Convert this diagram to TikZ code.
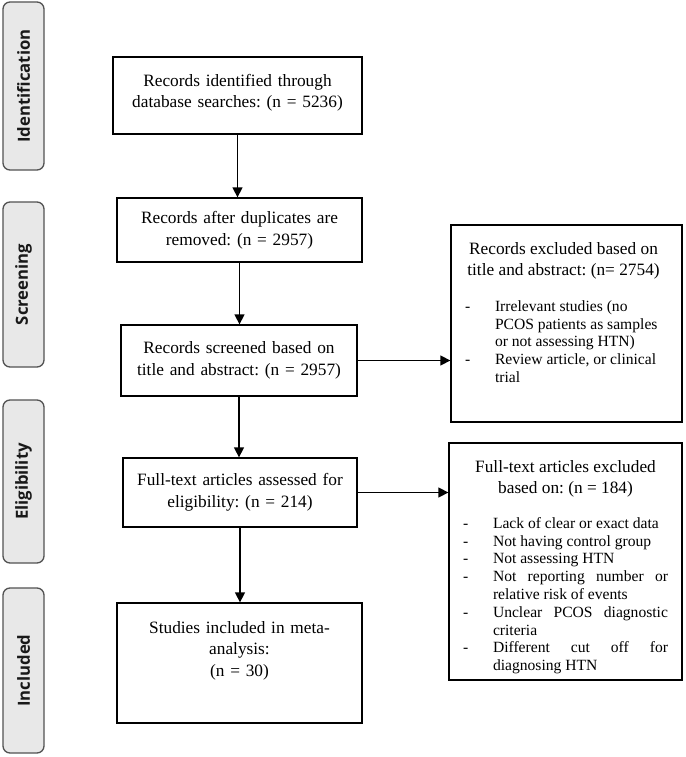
\documentclass[tikz,border=0pt]{standalone}
\usepackage{fontspec}
\setmainfont{Liberation Serif}
\newfontfamily\lblfont{Open Sans}
\usetikzlibrary{arrows.meta}
\frenchspacing
\newcommand{\mainsize}{\fontsize{17.3}{21.5}\selectfont}
\newcommand{\listsize}{\fontsize{15.6}{17.8}\selectfont}
\newcommand{\itm}[1]{\par\noindent\hangindent=30pt\hangafter=1\makebox[30pt][l]{-}#1\par}
\begin{document}
\begin{tikzpicture}[x=1pt,y=-1pt,
  box/.style={draw=black, line width=1.3pt, inner sep=0pt, align=center, font=\mainsize},
  rbox/.style={draw=black, line width=1.3pt, inner sep=0pt, font=\mainsize},
  side/.style={draw=black!68, fill=black!9, line width=1.3pt, rounded corners=7pt, rotate=90,
    minimum height=41pt, inner sep=0pt, text=black!90, font=\lblfont\bfseries\fontsize{16.7}{17}\selectfont},
  arr/.style={line width=1.4pt, -{Triangle[length=10pt,width=10pt]}}]
\useasboundingbox (0,0) rectangle (685,757);

% side labels
\node[side, minimum width=168pt] (s1) at (23.5,86) {Identification};
\node[side, minimum width=165pt] (s2) at (23.5,284.5) {Screening};
\node[side, minimum width=163pt] (s3) at (23.5,481.5) {Eligibility};
\node[side, minimum width=165pt] (s4) at (23.5,670.5) {Included};

% main column
\node[box, text width=249pt, minimum height=77pt] (b1) at (237.5,95.5)
  {Records identified through\\ database searches: (n = 5236)\rule[-9pt]{0pt}{1pt}};
\node[box, text width=245pt, minimum height=64pt] (b2) at (239.5,230)
  {Records after duplicates are\\ removed: (n = 2957)};
\node[box, text width=236pt, minimum height=71pt] (b3) at (239,360.5)
  {Records screened based on\\ title and abstract: (n = 2957)};
\node[box, text width=234pt, minimum height=69pt] (b4) at (240,492.5)
  {Full-text articles assessed for\\ eligibility: (n = 214)};
\node[box, text width=245pt, minimum height=120pt] (b5) at (239.5,663)
  {Studies included in meta-\\ analysis:\\ (n = 30)\rule[-29pt]{0pt}{1pt}};

% right column
\node[rbox] (r1) at (566.5,323.5) {\parbox[c][197pt][t]{231pt}{%
  \vspace*{17pt}\hspace*{14pt}\begin{minipage}[t]{197pt}
  {\centering Records excluded based on\\ title and abstract: (n= 2754)\par}
  \vspace{18pt}
  {\listsize\raggedright
  \itm{Irrelevant studies (no\newline PCOS patients as samples\newline or not assessing HTN)}
  \itm{Review article, or clinical\newline trial}}
  \end{minipage}}};
\node[rbox] (r2) at (565.5,561.5) {\parbox[c][237pt][t]{233pt}{%
  \vspace*{17pt}\hspace*{14pt}\begin{minipage}[t]{205pt}
  {\centering Full-text articles excluded\\ based on: (n = 184)\par}
  \vspace{17pt}
  {\listsize
  \itm{Lack of clear or exact data}
  \itm{Not having control group}
  \itm{Not assessing HTN}
  \itm{Not reporting number or\linebreak relative risk of events}
  \itm{Unclear PCOS diagnostic\linebreak criteria}
  \itm{Different cut off for\linebreak diagnosing HTN}}
  \end{minipage}}};

% connectors
\draw[arr] (b1.south) -- (b1.south |- b2.north);
\draw[arr] (b2.south) -- (b2.south |- b3.north);
\draw[arr] (b3.south) -- (b3.south |- b4.north);
\draw[arr] (b4.south) -- (b4.south |- b5.north);
\draw[arr] (b3.east) -- (b3.east -| r1.west);
\draw[arr] (b4.east) -- (b4.east -| r2.west);
\end{tikzpicture}
\end{document}
